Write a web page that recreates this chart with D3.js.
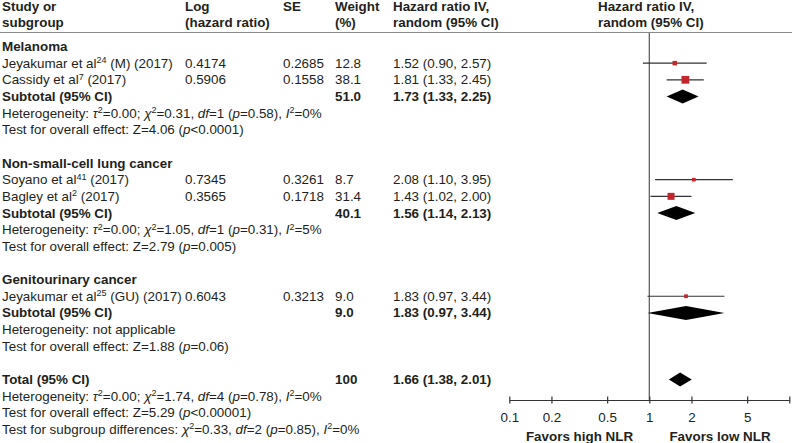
<!DOCTYPE html>
<html>
<head>
<meta charset="utf-8">
<script src="https://cdn.jsdelivr.net/npm/d3@7"></script>
<style>
  body { margin: 0; background: #fff; }
  text { font-family: "Liberation Sans", Arial, sans-serif; font-size: 13.4px; fill: #231f20; }
  .b { font-weight: bold; }
</style>
</head>
<body>
<div id="chart"></div>
<script>
// data
let groupNames = ["Melanoma", "Non-small-cell lung cancer", "Genitourinary cancer"];
let studyGroup = [0, 0, 1, 1, 2];
let studyAuthor = ["Jeyakumar et al", "Cassidy et al", "Soyano et al", "Bagley et al", "Jeyakumar et al"];
let studyRef = ["24", "7", "41", "2", "25"];
let studyTail = [" (M) (2017)", " (2017)", " (2017)", " (2017)", " (GU) (2017)"];
let logHR = [0.4174, 0.5906, 0.7345, 0.3565, 0.6043];
let seVals = [0.2685, 0.1558, 0.3261, 0.1718, 0.3213];
let weights = [12.8, 38.1, 8.7, 31.4, 9.0];
let hr = [1.52, 1.81, 2.08, 1.43, 1.83];
let hrLo = [0.90, 1.33, 1.10, 1.02, 0.97];
let hrHi = [2.57, 2.45, 3.95, 2.00, 3.44];

let subWeight = [51.0, 40.1, 9.0];
let subHR = [1.73, 1.56, 1.83];
let subLo = [1.33, 1.14, 0.97];
let subHi = [2.25, 2.13, 3.44];
let subHet = [
    "Heterogeneity: _τ_^2^=0.00; _χ_^2^=0.31, _df_=1 (_p_=0.58), _I_^2^=0%",
    "Heterogeneity: _τ_^2^=0.00; _χ_^2^=1.05, _df_=1 (_p_=0.31), _I_^2^=5%",
    "Heterogeneity: not applicable"
];
let subTest = [
    "Test for overall effect: Z=4.06 (_p_<0.0001)",
    "Test for overall effect: Z=2.79 (_p_=0.005)",
    "Test for overall effect: Z=1.88 (_p_=0.06)"
];

let totalWeight = 100, totalHR = 1.66, totalLo = 1.38, totalHi = 2.01;
let totalLines = [
    "Heterogeneity: _τ_^2^=0.00; _χ_^2^=1.74, _df_=4 (_p_=0.78), _I_^2^=0%",
    "Test for overall effect: Z=5.29 (_p_<0.00001)",
    "Test for subgroup differences: _χ_^2^=0.33, _df_=2 (_p_=0.85), _I_^2^=0%"
];

let axisTicks = [0.1, 0.2, 0.5, 1, 2, 5, 10];
let favorLabels = ["Favors high NLR", "Favors low NLR"];

// layout
let width = 792, height = 443;
let col = {name: 2, log: 185, se: 283, weight: 335, hr: 393, plot: 598};
let rowTop = 46.5, rowStep = 16.65;
let axisY = 400;

let x = d3.scaleLog()
    .domain([0.1, 10])
    .range([509.3, 789.3]);

let svg = d3.select("#chart").append("svg")
    .attr("width", width)
    .attr("height", height);

// write text with _italic_ and ^superscript^ parts
function richText(sel, str) {
    let parts = str.split(/(_[^_]+_|\^[^\^]+\^)/).filter(function (p) { return p.length; });
    let up = false;
    parts.forEach(function (p) {
        let t = sel.append("tspan");
        if (p[0] === "_") {
            t.text(p.slice(1, -1)).style("font-style", "italic");
            if (up) { t.attr("dy", 4.5); up = false; }
        } else if (p[0] === "^") {
            t.text(p.slice(1, -1)).style("font-size", "9px").attr("dy", -4.5);
            up = true;
        } else {
            t.text(p);
            if (up) { t.attr("dy", 4.5); up = false; }
        }
    });
}

// build rows
let rows = [];
groupNames.forEach(function (g, gi) {
    rows.push({type: "group", label: g});
    studyGroup.forEach(function (sg, i) {
        if (sg === gi) rows.push({type: "study", i: i});
    });
    rows.push({type: "sub", gi: gi});
    rows.push({type: "note", label: subHet[gi]});
    rows.push({type: "note", label: subTest[gi]});
    rows.push({type: "blank"});
});
rows.push({type: "total"});
totalLines.forEach(function (l) { rows.push({type: "note", label: l}); });

function rowY(k) { return rowTop + k * rowStep; }
let f2 = d3.format(".2f");
function ciText(m, lo, hi) { return f2(m) + " (" + f2(lo) + ", " + f2(hi) + ")"; }

// header
let header = [
    [col.name, "Study or", "subgroup"],
    [col.log, "Log", "(hazard ratio)"],
    [col.se, "SE", ""],
    [col.weight, "Weight", "(%)"],
    [col.hr, "Hazard ratio IV,", "random (95% CI)"],
    [col.plot, "Hazard ratio IV,", "random (95% CI)"]
];
header.forEach(function (h) {
    svg.append("text").attr("class", "b").attr("x", h[0]).attr("y", 10.5).text(h[1]);
    svg.append("text").attr("class", "b").attr("x", h[0]).attr("y", 26.5).text(h[2]);
});
svg.append("line")
    .attr("x1", 0).attr("x2", width)
    .attr("y1", 32.5).attr("y2", 32.5)
    .attr("stroke", "#8a8a8a").attr("stroke-width", 1.2);

// null line
svg.append("line")
    .attr("x1", x(1)).attr("x2", x(1))
    .attr("y1", 33).attr("y2", axisY)
    .attr("stroke", "#555").attr("stroke-width", 1.2);

function diamond(cy, m, lo, hi) {
    let h = 7;
    svg.append("path")
        .attr("d", "M" + x(lo) + "," + cy + "L" + x(m) + "," + (cy - h) +
            "L" + x(hi) + "," + cy + "L" + x(m) + "," + (cy + h) + "Z")
        .attr("fill", "#000");
}

rows.forEach(function (r, k) {
    let cy = rowY(k), by = cy + 4.5;
    if (r.type === "group") {
        svg.append("text").attr("class", "b").attr("x", col.name).attr("y", by).text(r.label);
    } else if (r.type === "study") {
        let i = r.i;
        richText(svg.append("text").attr("x", col.name).attr("y", by),
            studyAuthor[i] + "^" + studyRef[i] + "^" + studyTail[i]);
        svg.append("text").attr("x", col.log).attr("y", by).text(logHR[i].toFixed(4));
        svg.append("text").attr("x", col.se).attr("y", by).text(seVals[i].toFixed(4));
        svg.append("text").attr("x", col.weight).attr("y", by).text(weights[i].toFixed(1));
        svg.append("text").attr("x", col.hr).attr("y", by).text(ciText(hr[i], hrLo[i], hrHi[i]));
        svg.append("line")
            .attr("x1", x(hrLo[i])).attr("x2", x(hrHi[i]))
            .attr("y1", cy).attr("y2", cy)
            .attr("stroke", "#333").attr("stroke-width", 1.2);
        let s = 1.25 * Math.sqrt(weights[i]);
        svg.append("rect")
            .attr("x", x(hr[i]) - s / 2).attr("y", cy - s / 2)
            .attr("width", s).attr("height", s)
            .attr("fill", "#c4262e");
    } else if (r.type === "sub") {
        let gi = r.gi;
        svg.append("text").attr("class", "b").attr("x", col.name).attr("y", by).text("Subtotal (95% CI)");
        svg.append("text").attr("class", "b").attr("x", col.weight).attr("y", by).text(subWeight[gi].toFixed(1));
        svg.append("text").attr("class", "b").attr("x", col.hr).attr("y", by).text(ciText(subHR[gi], subLo[gi], subHi[gi]));
        diamond(cy, subHR[gi], subLo[gi], subHi[gi]);
    } else if (r.type === "note") {
        richText(svg.append("text").attr("x", col.name).attr("y", by), r.label);
    } else if (r.type === "total") {
        svg.append("text").attr("class", "b").attr("x", col.name).attr("y", by).text("Total (95% CI)");
        svg.append("text").attr("class", "b").attr("x", col.weight).attr("y", by).text(totalWeight);
        svg.append("text").attr("class", "b").attr("x", col.hr).attr("y", by).text(ciText(totalHR, totalLo, totalHi));
        diamond(cy, totalHR, totalLo, totalHi);
    }
});

// axis
let axis = svg.append("g")
    .attr("transform", "translate(0," + axisY + ")")
    .call(d3.axisBottom(x)
        .tickValues(axisTicks)
        .tickSize(0)
        .tickPadding(12)
        .tickFormat(function (d) { return d === 10 ? "" : d3.format("")(d); }));
axis.select(".domain").attr("stroke", "#333").attr("stroke-width", 1.2);
axis.selectAll(".tick line")
    .attr("y1", -3.5).attr("y2", 3.5)
    .attr("stroke", "#333").attr("stroke-width", 1.2);
axis.selectAll(".tick text")
    .style("font-family", "'Liberation Sans', Arial, sans-serif")
    .style("font-size", "13.4px")
    .attr("fill", "#231f20");

svg.append("text").attr("class", "b").attr("text-anchor", "middle")
    .attr("x", 579.5).attr("y", 441).text(favorLabels[0]);
svg.append("text").attr("class", "b").attr("text-anchor", "middle")
    .attr("x", 720).attr("y", 441).text(favorLabels[1]);
</script>
</body>
</html>
